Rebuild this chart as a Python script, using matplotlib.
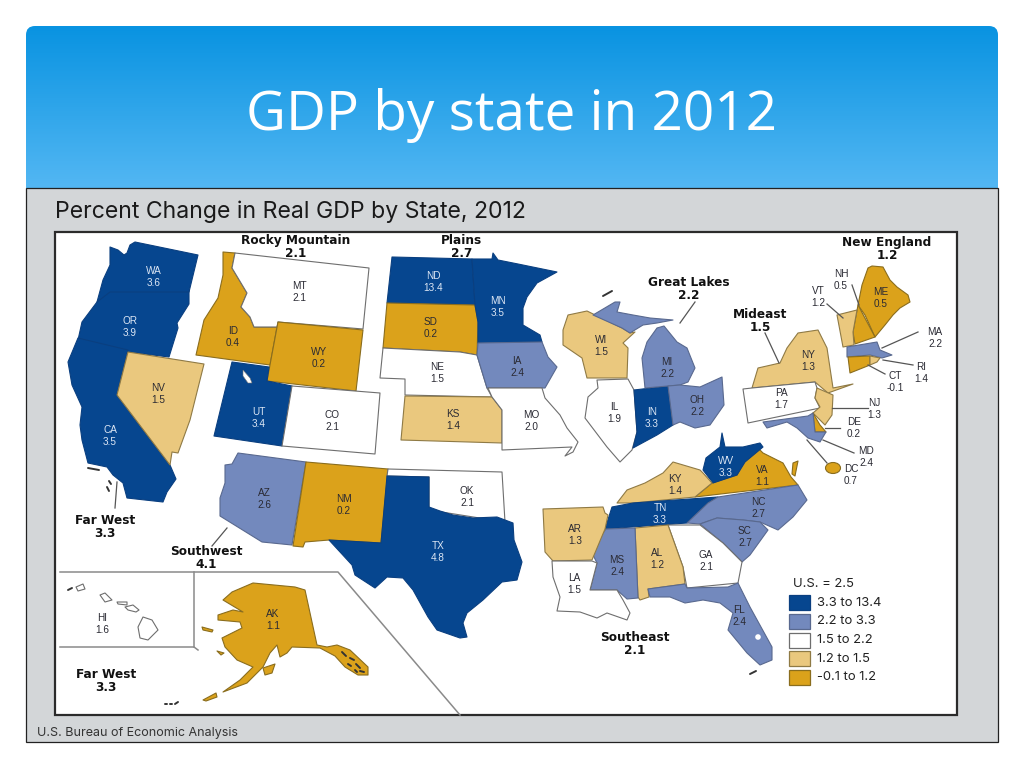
import matplotlib
matplotlib.use("Agg")
import matplotlib.pyplot as plt
import numpy as np
from matplotlib.patches import Polygon, Rectangle, FancyBboxPatch, Ellipse, Circle

# ---------- data ----------
STATES = ["WA","OR","CA","NV","ID","MT","WY","UT","CO","AZ","NM","TX","OK","ND","SD","NE","KS","MN","IA","MO",
          "WI","IL","IN","MI","OH","NY","PA","NJ","DE","MD","DC","VA","WV","KY","TN","NC","SC","GA","AL","MS","AR","LA","FL",
          "ME","NH","VT","MA","CT","RI","AK","HI"]
VALUES = [3.6,3.9,3.5,1.5,0.4,2.1,0.2,3.4,2.1,2.6,0.2,4.8,2.1,13.4,0.2,1.5,1.4,3.5,2.4,2.0,
          1.5,1.9,3.3,2.2,2.2,1.3,1.7,1.3,0.2,2.4,0.7,1.1,3.3,1.4,3.3,2.7,2.7,2.1,1.2,2.4,1.3,1.5,2.4,
          0.5,0.5,1.2,2.2,-0.1,1.4,1.1,1.6]
# legend class per state (0 = highest class)
BINS = [0,0,0,3,4,2,4,0,2,1,4,0,2,0,4,2,3,0,1,2,
        3,2,0,1,1,3,2,3,4,1,4,4,0,3,0,1,1,2,3,1,3,2,1,
        4,4,3,1,4,3,4,2]
LEGEND_LABELS = ["3.3 to 13.4","2.2 to 3.3","1.5 to 2.2","1.2 to 1.5","-0.1 to 1.2"]
US_TOTAL = "U.S. = 2.5"
REGIONS = ["Rocky Mountain","Plains","Great Lakes","Mideast","New England","Far West","Southwest","Far West","Southeast"]
REGION_VALUES = [2.1,2.7,2.2,1.5,1.2,3.3,4.1,3.3,2.1]
TITLE = "GDP by state in 2012"
SUBTITLE = "Percent Change in Real GDP by State, 2012"
SOURCE = "U.S. Bureau of Economic Analysis"

# ---------- map geometry (image pixels) ----------
OUTLINES = {
"OR":[(97,302),(110,290),(150,290),(189,290),(189,304),(177,323),(178,328),(169,357),(128,352),(78,340),(82,322)],
"WA":[(110,247),(118,250),(124,255),(127,253),(130,245),(135,242),(198,255),(189,292),(110,292),(97,302),(103,280),(110,265)],
"CA":[(78,338),(128,350),(117,395),(170,465),(176,479),(167,492),(163,502),(127,498),(123,483),(113,475),(107,467),(88,463),(82,440),(80,425),(82,407),(72,385),(68,362)],
"NV":[(128,352),(204,364),(190,420),(178,453),(172,452),(170,465),(117,395)],
"ID":[(223,252),(235,253),(232,268),(247,293),(241,307),(250,317),(254,327),(277,327),(270,365),(196,355),(204,320),(218,298),(223,275)],
"MT":[(235,253),(369,268),(363,329),(278,322),(277,327),(254,327),(250,317),(241,307),(247,293),(232,268)],
"WY":[(278,322),(363,330),(356,391),(267,381)],
"UT":[(232,362),(269,367),(267,381),(292,386),(282,446),(214,436)],
"CO":[(292,386),(380,393),(375,454),(282,446)],
"AZ":[(238,453),(306,462),(292,545),(262,542),(220,516),(220,498),(225,483),(225,465),(232,464)],
"NM":[(306,462),(388,469),(381,543),(329,540),(305,542),(303,547),(293,546)],
"OK":[(388,469),(502,472),(505,522),(429,510),(429,477),(387,476)],
"TX":[(387,476),(429,477),(429,507),(440,511),(453,515),(473,518),(497,517),(513,523),(514,540),(522,562),(517,580),(502,582),(483,600),(467,613),(463,623),(467,637),(460,638),(437,630),(428,617),(413,590),(403,578),(387,577),(375,588),(355,575),(352,565),(329,540),(381,543)],
"ND":[(392,257),(472,259),(475,305),(387,303)],
"SD":[(387,303),(475,305),(478,322),(477,355),(460,352),(383,348)],
"NE":[(383,348),(460,352),(477,355),(480,365),(487,388),(492,397),(405,395),(405,379),(380,378)],
"KS":[(405,396),(492,397),(502,410),(502,443),(401,440)],
"MN":[(472,259),(492,259),(493,253),(498,260),(518,264),(557,272),(537,283),(527,297),(523,308),(523,325),(540,335),(542,342),(478,343),(478,322),(475,305)],
"IA":[(478,343),(542,342),(548,357),(557,367),(545,388),(487,388),(480,365),(477,355)],
"MO":[(488,388),(542,388),(545,398),(560,415),(567,428),(578,442),(573,452),(565,456),(572,447),(502,450),(502,410),(492,397)],
"WI":[(568,315),(587,311),(622,328),(630,333),(635,332),(623,343),(628,348),(627,378),(587,378),(582,358),(563,345),(563,330)],
"IL":[(597,380),(628,379),(634,390),(637,432),(632,450),(620,462),(607,447),(585,418),(588,397),(598,388)],
"IN":[(634,390),(668,386),(673,425),(657,435),(633,448),(637,432)],
"MI":[(657,328),(664,326),(677,342),(687,348),(695,368),(688,382),(680,385),(668,386),(645,388),(642,358),(647,342)],
"MI2":[(593,315),(615,302),(620,302),(617,312),(633,315),(650,318),(673,320),(657,323),(643,325),(630,333),(622,328)],
"OH":[(668,386),(680,385),(700,387),(722,377),(724,405),(710,425),(695,428),(680,422),(673,425)],
"NY":[(818,330),(827,348),(833,388),(853,384),(828,393),(815,382),(752,388),(758,368),(780,363),(787,348),(798,333)],
"PA":[(752,388),(743,389),(748,423),(820,408),(815,398),(817,388),(815,382)],
"NJ":[(817,388),(833,395),(832,415),(825,425),(813,413),(820,407),(815,398)],
"DE":[(813,413),(820,425),(826,432),(815,432)],
"MD":[(763,422),(808,416),(813,413),(815,432),(826,432),(820,442),(808,438),(797,428),(787,422),(767,428)],
"VA":[(758,448),(763,453),(783,463),(791,477),(798,485),(695,497),(712,483),(737,475),(743,463)],
"VA2":[(793,463),(798,461),(795,476),(792,474)],
"WV":[(722,433),(725,447),(743,447),(760,443),(763,447),(745,462),(737,475),(713,483),(703,470),(706,458),(720,447)],
"KY":[(617,503),(627,490),(645,483),(663,473),(673,462),(700,470),(703,473),(712,483),(695,497),(633,503)],
"TN":[(612,507),(633,503),(718,497),(708,503),(687,523),(605,529)],
"NC":[(718,497),(798,485),(807,500),(793,517),(778,530),(760,522),(743,520),(717,518),(700,524),(687,523),(708,503)],
"SC":[(700,524),(717,518),(743,520),(760,522),(768,530),(750,555),(742,562),(723,543)],
"GA":[(668,525),(700,525),(723,543),(742,562),(738,583),(687,588),(683,567)],
"AL":[(635,528),(668,525),(683,567),(685,584),(648,589),(649,597),(640,600),(638,597)],
"MS":[(606,529),(635,528),(638,598),(627,599),(617,590),(590,590),(597,563),(592,553),(598,540)],
"AR":[(543,509),(603,507),(605,513),(608,515),(605,529),(592,560),(553,561),(545,552)],
"LA":[(552,561),(592,561),(597,563),(590,590),(617,590),(623,600),(630,613),(627,620),(607,613),(597,618),(580,612),(557,611),(560,597),(553,577)],
"FL":[(648,589),(685,584),(687,588),(728,587),(738,583),(750,607),(772,647),(772,660),(760,665),(747,653),(728,630),(733,613),(720,603),(703,600),(685,603),(670,597),(650,597)],
"ME":[(868,268),(872,266),(883,267),(890,280),(897,287),(908,295),(910,302),(900,308),(893,315),(885,325),(875,337),(865,315),(858,305),(862,285)],
"NH":[(858,305),(875,337),(855,344),(853,332)],
"VT":[(837,315),(857,310),(853,332),(854,345),(843,347)],
"MA":[(847,347),(877,342),(880,350),(892,355),(882,358),(870,355),(847,357)],
"CT":[(848,357),(870,356),(870,365),(850,373)],
"RI":[(870,356),(880,358),(877,362),(870,365)],
"AK":[(253,583),(295,587),(305,590),(317,645),(327,647),(337,645),(350,650),(368,667),(368,675),(358,675),(345,667),(335,656),(320,648),(292,647),(287,653),(280,657),(277,645),(270,653),(263,667),(247,683),(223,692),(240,680),(253,667),(237,660),(225,647),(222,638),(242,628),(240,622),(218,620),(218,615),(233,610),(243,612),(223,600),(232,592)],
"AK2":[(263,668),(275,664),(272,673),(265,675)],
"AK3":[(202,627),(213,630),(212,632),(203,630)],
"AK4":[(217,651),(224,653),(221,655)],
"AK5":[(203,700),(216,693),(217,697),(206,701)],
"HI":[(138,627),(143,617),(152,620),(158,630),(148,640),(140,638)],
"HI2":[(125,607),(133,605),(139,610),(136,612),(128,610)],
"HI3":[(100,595),(105,593),(112,600),(105,602)],
"HI4":[(76,587),(83,584),(85,589),(78,591)],
"HI5":[(117,602),(127,602),(127,605),(118,604)],
}
LABEL_XY = {"WA":(154,277),"OR":(130,327),"CA":(110,436),"NV":(158,394),"ID":(233,337),"MT":(299,292),"WY":(319,358),
"UT":(259,418),"CO":(332,421),"AZ":(264,499),"NM":(344,505),"TX":(438,552),"OK":(467,497),"ND":(433,282),"SD":(431,328),
"NE":(437,373),"KS":(453,420),"MN":(498,307),"IA":(517,367),"MO":(531,421),"WI":(601,346),"IL":(614,413),"IN":(652,418),
"MI":(667,368),"OH":(697,406),"NY":(808,361),"PA":(781,399),"NJ":(874,409),"DE":(854,428),"MD":(866,457),"DC":(851,475),
"VA":(762,476),"WV":(726,467),"KY":(675,485),"TN":(660,514),"NC":(758,508),"SC":(745,537),"GA":(706,561),"AL":(657,559),
"MS":(617,566),"AR":(575,535),"LA":(574,584),"FL":(739,616),"ME":(881,298),"NH":(841,280),"VT":(818,297),"MA":(935,338),
"CT":(895,382),"RI":(921,373),"AK":(273,620),"HI":(102,624)}
REGION_XY = [(296,247),(462,247),(689,289),(760,321),(887,249),(105,527),(206,558),(106,681),(635,644)]
LEADERS = [((918,332),(882,348)),((913,365),(883,360)),((885,374),(868,365)),((852,285),(859,305)),((827,304),(843,318)),
           ((765,333),(779,363)),((695,302),(680,323)),((868,408),(832,408)),((840,428),(825,428)),((854,453),(823,440)),
           ((827,463),(807,440)),((227,528),(212,546)),((117,482),(115,508))]
INSET_LINES = [[(60,572),(338,572),(460,715)],[(194,572),(194,647)],[(60,647),(194,647),(198,650)]]
SMALL_MARKS = [[(603,296),(612,291)],[(88,468),(99,470)],[(109,481),(111,484)],[(107,487),(109,491)],[(68,590),(72,588)],
               [(165,704),(167,704)],[(170,704),(172,704)],[(175,704),(178,702)],[(750,674),(756,671)],
               [(342,652),(346,656)],[(350,658),(354,660)],[(348,664),(351,666)],[(356,664),(360,668)],[(360,671),(364,672)],[(355,670),(357,672)]]

COLORS = ["#06468F","#7389BD","#FFFFFF","#EAC87E","#DBA21B"]
EDGES = ["#0A3F80","#59698F","#6E6E6E","#8F7A45","#8A6D1E"]
TEXT_DARK, TEXT_LIGHT = "#2A2A33", "#DCE6F4"

fig = plt.figure(figsize=(10.24,7.68),dpi=100,facecolor="white")
ax = fig.add_axes([0,0,1,1])
ax.set_xlim(0,1024); ax.set_ylim(768,0); ax.axis("off")

# slide banner with gradient
band = FancyBboxPatch((26,26),972,200,boxstyle="round,pad=0,rounding_size=9",fc="none",ec="none",zorder=1)
ax.add_patch(band)
grad = np.linspace(0,1,200)[:,None]
c0,c1 = np.array([0x09,0x93,0xE1])/255,np.array([0x53,0xB7,0xF3])/255
img = (c0[None,None,:]*(1-grad[...,None]) + c1[None,None,:]*grad[...,None])
im = ax.imshow(img,extent=(26,998,188,26),aspect="auto",zorder=1)
im.set_clip_path(band)
ax.set_xlim(0,1024); ax.set_ylim(768,0)
ax.text(512,130,TITLE,color="white",ha="center",va="baseline",fontsize=39.5,family="Open Sans",zorder=5)

# grey panel and white map frame
ax.add_patch(Rectangle((26,188),972,554,fc="#D3D6D8",ec="#222222",lw=0.9,zorder=2))
ax.text(55,218,SUBTITLE,color="#1A1A1A",ha="left",va="baseline",fontsize=16.6,family="Inter",zorder=5)
ax.add_patch(Rectangle((55,232),902,483,fc="white",ec="#2B2B2B",lw=1.6,zorder=2))
ax.text(37,736,SOURCE,color="#333333",ha="left",va="baseline",fontsize=9.0,family="Inter",zorder=5)

for seg in INSET_LINES:
    xs,ys = zip(*seg); ax.plot(xs,ys,color="#8A8A8A",lw=1.1,zorder=3)

# states
def base(k):
    return k.rstrip("0123456789")
for key,pts in OUTLINES.items():
    b = BINS[STATES.index(base(key))]
    ax.add_patch(Polygon(pts,closed=True,fc=COLORS[b],ec=EDGES[b],lw=0.8,joinstyle="round",zorder=4))
b = BINS[STATES.index("DC")]
ax.add_patch(Ellipse((833,468),15,11,fc=COLORS[b],ec=EDGES[b],lw=0.8,zorder=4))
ax.add_patch(Circle((758,637),2.8,fc="white",ec="none",zorder=4.5))
ax.add_patch(Polygon([(243,370),(250,378),(252,383),(248,383),(243,376)],fc="white",ec="#777777",lw=0.4,zorder=4.5))

for a,c in LEADERS:
    ax.plot([a[0],c[0]],[a[1],c[1]],color="#555555",lw=0.9,zorder=4.6)
for seg in SMALL_MARKS:
    xs,ys = zip(*seg); ax.plot(xs,ys,color="#333333",lw=1.4,solid_capstyle="round",zorder=4.6)

# state labels
for s,v,b in zip(STATES,VALUES,BINS):
    x,y = LABEL_XY[s]
    ax.text(x,y,f"{s}\n{v:.1f}",ha="center",va="center",fontsize=7.2,linespacing=1.2,family="Liberation Sans",
            color=TEXT_LIGHT if b==0 else TEXT_DARK,zorder=6)

# region labels
for r,v,(x,y) in zip(REGIONS,REGION_VALUES,REGION_XY):
    ax.text(x,y,f"{r}\n{v:.1f}",ha="center",va="center",fontsize=8.7,fontweight="bold",linespacing=0.95,
            family="DejaVu Sans",color="#111111",zorder=6)

# legend
ax.text(793,587,US_TOTAL,ha="left",va="baseline",fontsize=9.4,family="Inter",color="#222222",zorder=6)
for i,(lab,c,e) in enumerate(zip(LEGEND_LABELS,COLORS,EDGES)):
    top = 595+i*18.75
    ax.add_patch(Rectangle((789,top),21,15,fc=c,ec=e,lw=0.9,zorder=5))
    ax.text(817,top+7.5,lab,ha="left",va="center",fontsize=9.4,family="Inter",color="#222222",zorder=6)

fig.savefig("out.png",dpi=100,facecolor="white")
